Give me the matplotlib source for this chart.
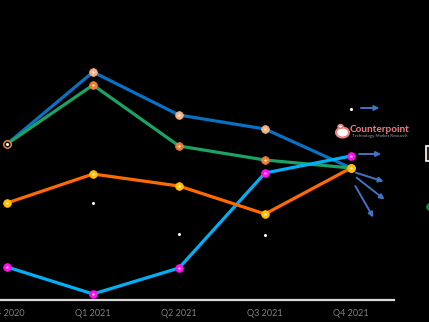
import matplotlib
matplotlib.use("Agg")
import matplotlib.pyplot as plt
from matplotlib.patches import Rectangle, Circle, Ellipse

quarters = ["Q4 2020", "Q1 2021", "Q2 2021", "Q3 2021", "Q4 2021"]

series_a = [15.6, 22.8, 18.5, 17.1, 13.2]   # dark blue
series_b = [15.6, 21.5, 15.4, 14.0, 13.2]   # green
series_c = [9.7, 12.6, 11.4, 8.6, 13.2]     # orange
series_d = [3.3, 0.6, 3.2, 12.7, 14.4]      # light blue
series_e = [15.6, 9.7, 6.6, 6.5, 19.1]      # white dots

styles = [
    (series_a, "#0A70C2", "#F4B183"),
    (series_b, "#1CA262", "#ED7D31"),
    (series_d, "#00B0F6", "#FF10F0"),
    (series_c, "#FF6A00", "#FFC000"),
]

W, H = 429, 322
fig = plt.figure(figsize=(W / 100, H / 100), dpi=100, facecolor="black")
ax = fig.add_axes([-36 / W, 22 / H, 430 / W, 300 / H], facecolor="black")

x = list(range(len(quarters)))
for i, (vals, lc, mc) in enumerate(styles):
    ax.plot(x, vals, color=lc, lw=2.3, zorder=2 + i, solid_capstyle="round",
            marker="o", ms=5.5, mfc=mc, mec=mc, mew=0.6)
    ax.plot(x, vals, ls="none", marker="o", ms=1.6, mfc="white", mec="none",
            zorder=2.5 + i)

ax.plot(x, series_e, ls="none", marker="o", ms=3.2, mfc="white", mec="black",
        mew=1.0, zorder=10)

ax.set_xlim(-0.5, 4.5)
ax.set_ylim(0, 30)
ax.set_xticks(x)
ax.set_xticklabels(quarters, fontsize=6.5, color="#808080", family="Lato")
ax.tick_params(axis="x", length=0, pad=6.5)
ax.set_yticks([])
for s in ("left", "right", "top"):
    ax.spines[s].set_visible(False)
ax.spines["bottom"].set_color("#D9D9D9")
ax.spines["bottom"].set_linewidth(1.6)

# pointer arrows toward the right-hand annotations
arrows = [
    ((4.116, 19.2), (4.33, 19.2)),
    ((4.093, 14.6), (4.35, 14.6)),
    ((4.058, 12.73), (4.38, 11.85)),
    ((4.066, 12.23), (4.39, 10.05)),
    ((4.05, 11.4), (4.26, 8.25)),
]
for start, end in arrows:
    ax.annotate("", xy=end, xytext=start,
                arrowprops=dict(arrowstyle="-|>", color="#4472C4", lw=1.4,
                                mutation_scale=7, shrinkA=0, shrinkB=0),
                zorder=11)

# brand mark
def fx(px):
    return px / W

def fy(py):
    return 1 - py / H

pink = "#F27C7C"
fig.patches.append(Ellipse((fx(342.5), fy(132.5)), 13 / W, 10 / H,
                           transform=fig.transFigure, fc="white", ec=pink,
                           lw=1.5, zorder=20))
fig.patches.append(Circle((fx(340.5), fy(126.5)), 2.4 / W,
                          transform=fig.transFigure, fc="white", ec=pink,
                          lw=1.2, zorder=21))
fig.text(fx(350), fy(129.5), "Counterpoint", color=pink, fontsize=7.2,
         fontweight="bold", family="Lato", va="center", ha="left")
fig.text(fx(352), fy(136.5), "Technology Market Research", color="#A0A0A0",
         fontsize=3.2, family="Lato", va="center", ha="left")

# partially visible items at the right edge
fig.patches.append(Rectangle((fx(425.5), fy(161)), 6 / W, 15 / H,
                             transform=fig.transFigure, fc="#2A2118",
                             ec="white", lw=1.2, zorder=20))
fig.patches.append(Circle((fx(432), fy(207)), 6 / W,
                          transform=fig.transFigure, fc="#1B7A3E",
                          ec="none", zorder=20))

fig.savefig("out.png", dpi=100, facecolor="black")
